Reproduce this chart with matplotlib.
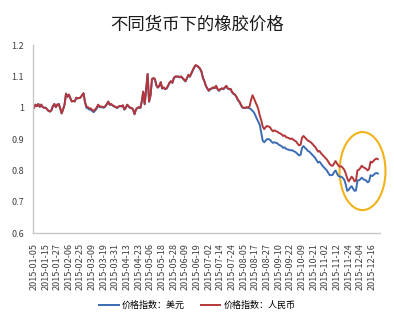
import matplotlib
matplotlib.use("Agg")
import matplotlib.pyplot as plt
from matplotlib.patches import Ellipse

plt.rcParams["font.family"] = ["Noto Sans CJK SC", "DejaVu Sans"]

# rubber price index, priced in CNY (red) and USD (blue), trading days of 2015
cny_index = [
    1.000, 1.010, 1.005, 1.012, 1.003, 1.010, 1.002, 1.000, 1.000, 0.995,
    0.990, 0.988, 0.992, 1.005, 1.012, 1.002, 1.010, 1.012, 0.998, 0.982,
    0.995, 1.010, 1.045, 1.035, 1.042, 1.030, 1.020, 1.022, 1.020, 1.032,
    1.030, 1.031, 1.033, 1.040, 1.046, 1.020, 1.004, 1.002, 0.998, 0.998,
    0.993, 0.990, 0.995, 1.000, 1.010, 1.005, 1.004, 1.003, 1.002, 1.005,
    1.012, 1.020, 1.010, 1.012, 1.008, 1.005, 1.003, 1.000, 1.004, 1.006,
    1.005, 1.008, 0.995, 1.000, 1.010, 1.005, 1.000, 1.000, 0.995, 0.980,
    0.995, 1.000, 1.002, 1.000, 1.020, 1.052, 1.012, 1.060, 1.108, 1.020,
    1.040, 1.092, 1.095, 1.092, 1.072, 1.065, 1.070, 1.082, 1.062, 1.065,
    1.060, 1.062, 1.070, 1.080, 1.085, 1.080, 1.095, 1.100, 1.100, 1.100,
    1.098, 1.100, 1.095, 1.090, 1.085, 1.095, 1.105, 1.100, 1.110, 1.120,
    1.130, 1.136, 1.134, 1.130, 1.125, 1.115, 1.095, 1.085, 1.070, 1.062,
    1.055, 1.060, 1.062, 1.065, 1.063, 1.070, 1.060, 1.055, 1.060, 1.062,
    1.060, 1.065, 1.070, 1.062, 1.060, 1.060, 1.050, 1.045, 1.042, 1.035,
    1.025, 1.020, 1.010, 1.002, 1.000, 1.000, 1.002, 1.000, 1.005, 1.025,
    1.040, 1.030, 1.018, 1.008, 0.995, 0.975, 0.960, 0.940, 0.932, 0.938,
    0.942, 0.940, 0.938, 0.930, 0.925, 0.928, 0.925, 0.924, 0.920, 0.918,
    0.915, 0.910, 0.912, 0.906, 0.905, 0.903, 0.900, 0.902, 0.898, 0.895,
    0.892, 0.885, 0.880, 0.882, 0.905, 0.910, 0.905, 0.900, 0.895, 0.893,
    0.890, 0.885, 0.880, 0.875, 0.868, 0.860, 0.862, 0.855, 0.850, 0.845,
    0.840, 0.835, 0.828, 0.820, 0.816, 0.815, 0.822, 0.830, 0.822, 0.815,
    0.812, 0.813, 0.808, 0.802, 0.790, 0.775, 0.765, 0.772, 0.780, 0.775,
    0.765, 0.768, 0.800, 0.802, 0.808, 0.815, 0.810, 0.808, 0.805, 0.800,
    0.805, 0.828, 0.825, 0.830, 0.835, 0.838, 0.836,
]

usd_index = [
    1.000, 1.010, 1.005, 1.012, 1.003, 1.010, 1.002, 1.000, 1.000, 0.995,
    0.990, 0.988, 0.992, 1.005, 1.012, 1.002, 1.010, 1.012, 0.998, 0.982,
    0.995, 1.010, 1.045, 1.035, 1.042, 1.030, 1.020, 1.022, 1.020, 1.032,
    1.030, 1.031, 1.033, 1.040, 1.046, 1.018, 1.000, 0.998, 0.994, 0.994,
    0.989, 0.986, 0.991, 0.997, 1.007, 1.002, 1.002, 1.001, 1.000, 1.004,
    1.011, 1.019, 1.009, 1.011, 1.007, 1.004, 1.002, 0.999, 1.003, 1.005,
    1.004, 1.007, 0.994, 0.999, 1.009, 1.004, 0.999, 0.999, 0.994, 0.979,
    0.994, 0.999, 1.001, 0.999, 1.019, 1.051, 1.011, 1.059, 1.107, 1.019,
    1.039, 1.091, 1.094, 1.091, 1.071, 1.064, 1.069, 1.081, 1.061, 1.064,
    1.059, 1.061, 1.069, 1.079, 1.084, 1.079, 1.094, 1.099, 1.099, 1.099,
    1.097, 1.099, 1.094, 1.089, 1.084, 1.094, 1.104, 1.099, 1.109, 1.119,
    1.129, 1.135, 1.133, 1.129, 1.124, 1.114, 1.094, 1.084, 1.069, 1.061,
    1.054, 1.059, 1.061, 1.064, 1.062, 1.069, 1.059, 1.054, 1.059, 1.061,
    1.059, 1.064, 1.069, 1.061, 1.059, 1.059, 1.049, 1.044, 1.041, 1.034,
    1.024, 1.019, 1.009, 1.001, 0.999, 0.999, 1.001, 1.000, 0.998, 0.995,
    0.990, 0.985, 0.975, 0.965, 0.955, 0.945, 0.920, 0.895, 0.890, 0.895,
    0.900, 0.900, 0.898, 0.892, 0.888, 0.890, 0.888, 0.887, 0.882, 0.880,
    0.877, 0.872, 0.874, 0.869, 0.867, 0.866, 0.864, 0.865, 0.862, 0.860,
    0.857, 0.852, 0.848, 0.850, 0.872, 0.878, 0.872, 0.868, 0.862, 0.860,
    0.855, 0.850, 0.845, 0.840, 0.832, 0.825, 0.828, 0.822, 0.815, 0.810,
    0.805, 0.800, 0.792, 0.785, 0.785, 0.786, 0.795, 0.800, 0.790, 0.782,
    0.780, 0.780, 0.776, 0.770, 0.755, 0.735, 0.738, 0.745, 0.750, 0.742,
    0.735, 0.736, 0.768, 0.768, 0.772, 0.777, 0.772, 0.770, 0.768, 0.762,
    0.765, 0.785, 0.782, 0.785, 0.790, 0.792, 0.790,
]

# one label every 8 trading days
date_labels = [
    "2015-01-05", "2015-01-15", "2015-01-27", "2015-02-06", "2015-02-25",
    "2015-03-09", "2015-03-19", "2015-03-31", "2015-04-13", "2015-04-23",
    "2015-05-06", "2015-05-18", "2015-05-28", "2015-06-09", "2015-06-19",
    "2015-07-02", "2015-07-14", "2015-07-24", "2015-08-05", "2015-08-17",
    "2015-08-27", "2015-09-10", "2015-09-22", "2015-10-09", "2015-10-21",
    "2015-11-02", "2015-11-12", "2015-11-24", "2015-12-04", "2015-12-16",
]
label_step = 8

series_names = ["价格指数：美元", "价格指数：人民币"]
blue = "#3a6db4"
red = "#b3373a"

fig = plt.figure(figsize=(3.94, 3.22), dpi=100)
ax = fig.add_axes([0.0825, 0.276, 0.882, 0.584])

days = range(len(cny_index))
ax.plot(days, usd_index, color=blue, lw=1.4, label=series_names[0])
ax.plot(days, cny_index, color=red, lw=1.4, label=series_names[1])

ax.set_xlim(-1, 237.5)
ax.set_ylim(0.6, 1.2)
ax.set_yticks([0.6, 0.7, 0.8, 0.9, 1.0, 1.1, 1.2])
ax.set_yticklabels(["0.6", "0.7", "0.8", "0.9", "1", "1.1", "1.2"])
ax.set_xticks([i * label_step for i in range(len(date_labels))])
ax.set_xticklabels(date_labels, rotation=90)
ax.tick_params(length=0, labelsize=6.5, colors="#404040")
ax.tick_params(axis="x", pad=7)
ax.tick_params(axis="y", pad=6)

for side in ["top", "right"]:
    ax.spines[side].set_visible(False)
for side in ["left", "bottom"]:
    ax.spines[side].set_color("#c8c8c8")
    ax.spines[side].set_linewidth(1.0)

# highlight circle around the December divergence
ax.add_patch(Ellipse((225.5, 0.798), 31.5, 0.249, fill=False,
                     edgecolor="#f2b21a", lw=1.5, clip_on=False))

fig.text(0.5, 0.925, "不同货币下的橡胶价格", ha="center", va="center",
         fontsize=12.5, color="#1a1a1a")

fig.legend(loc="center", bbox_to_anchor=(0.5, 0.052), ncol=2, frameon=False,
           fontsize=6.5, handlelength=2.2, handletextpad=0.3,
           columnspacing=1.8)

fig.savefig("out.png", dpi=100)
